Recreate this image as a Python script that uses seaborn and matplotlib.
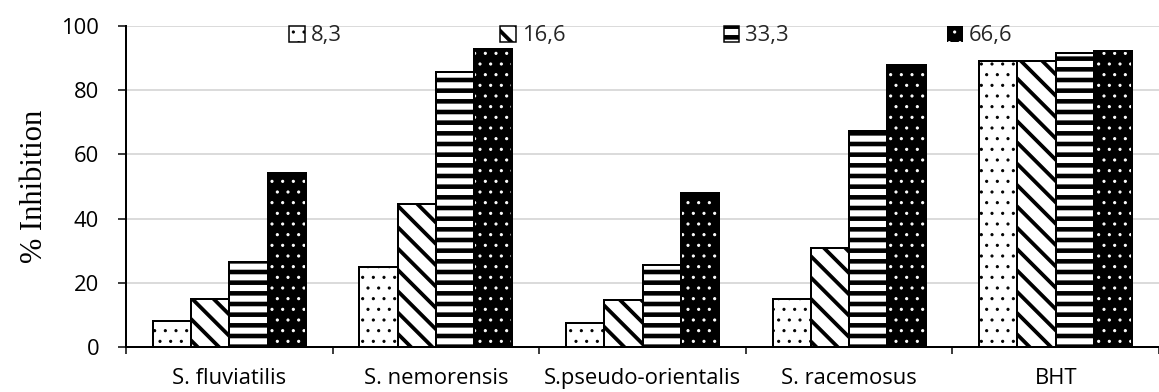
import matplotlib
matplotlib.use('Agg')
import matplotlib as mpl
import matplotlib.pyplot as plt
from matplotlib.patches import Rectangle
from matplotlib.ticker import FixedLocator
import seaborn as sns
import pandas as pd

# ---- data ----
species = ['S. fluviatilis', 'S. nemorensis', 'S.pseudo-orientalis', 'S. racemosus', 'BHT']
concentrations = ['8,3', '16,6', '33,3', '66,6']
c83 = [8.0, 25.0, 7.6, 15.0, 89.1]
c166 = [15.0, 44.5, 14.5, 30.8, 89.1]
c333 = [26.5, 85.6, 25.5, 67.2, 91.6]
c666 = [54.3, 92.7, 48.0, 87.8, 92.2]
y_ticks = [0, 20, 40, 60, 80, 100]
y_label = '% Inhibition'

sns.set_style('white')
plt.rcParams['font.family'] = ['Open Sans', 'DejaVu Sans']

DPI = 64
PT = 72 / DPI  # points per pixel

rows = []
for conc, vals in zip(concentrations, [c83, c166, c333, c666]):
    for sp, v in zip(species, vals):
        rows.append({'species': sp, 'conc': conc, 'value': v})
df = pd.DataFrame(rows)

fig = plt.figure(figsize=(1159 / DPI, 392 / DPI), dpi=DPI)
ax = fig.add_axes([126 / 1159, 45 / 392, 1033 / 1159, 321 / 392])

sns.barplot(data=df, x='species', y='value', hue='conc', order=species,
            hue_order=concentrations, palette=['white', 'white', 'white', 'black'],
            saturation=1, width=0.74, errorbar=None, edgecolor='black',
            linewidth=2 * PT, ax=ax, legend=False, zorder=3)


def set_hlw(p, lw):
    if hasattr(p, 'set_hatch_linewidth'):
        p.set_hatch_linewidth(lw)
    orig = p.draw

    def draw(renderer, _orig=orig, _lw=lw):
        with mpl.rc_context({'hatch.linewidth': _lw}):
            _orig(renderer)
    p.draw = draw


styles = [
    dict(hatch='.', hlw=1.0 * PT, ec='black'),
    dict(hatch='\\', hlw=3.8 * PT, ec='black'),
    dict(hatch='-', hlw=4.6 * PT, ec='black'),
    dict(hatch='.', hlw=1.0 * PT, ec='white'),
]

containers = list(ax.containers)
for cont, st in zip(containers, styles):
    for p in cont.patches:
        p.set_hatch(st['hatch'])
        p.set_edgecolor(st['ec'])
        set_hlw(p, st['hlw'])
        if st['ec'] == 'white':
            p.set_linewidth(0)
            ax.add_patch(Rectangle(p.get_xy(), p.get_width(), p.get_height(),
                                   fill=False, edgecolor='black',
                                   linewidth=2 * PT, zorder=4))

FS = 22 * PT
handles = [c.patches[0] for c in containers]
leg = ax.legend(handles, concentrations, loc='center', bbox_to_anchor=(0.508, 0.969),
                ncol=4, frameon=False, handlelength=0.72, handleheight=0.72,
                handletextpad=0.27, columnspacing=7.2, fontsize=FS,
                borderpad=0)
for lp, st in zip(leg.get_patches(), styles):
    lp.set_hatch(st['hatch'])
    lp.set_edgecolor('black' if st['ec'] == 'black' else 'white')
    lp.set_linewidth(1.5 * PT if st['ec'] == 'black' else 0)
    set_hlw(lp, st['hlw'])

ax.set_xlim(-0.5, 4.5)
ax.set_ylim(0, 100)
ax.set_yticks(y_ticks)
ax.yaxis.grid(True, color='#d0d0d0', linewidth=1.5 * PT)
ax.xaxis.grid(False)
ax.set_axisbelow(True)

ax.tick_params(axis='y', direction='out', length=8 * PT, width=1.5 * PT,
               pad=19 * PT, labelsize=FS, colors='black', left=True)
ax.tick_params(axis='x', which='major', length=0, pad=21 * PT,
               labelsize=22 * PT, colors='black')
ax.xaxis.set_minor_locator(FixedLocator([-0.5, 0.5, 1.5, 2.5, 3.5, 4.5]))
ax.tick_params(axis='x', which='minor', direction='out', length=7 * PT,
               width=1.5 * PT, color='black', bottom=True)

for s in ['top', 'right']:
    ax.spines[s].set_visible(False)
for s in ['left', 'bottom']:
    ax.spines[s].set_color('black')
    ax.spines[s].set_linewidth(2 * PT)
    ax.spines[s].set_zorder(5)

ax.set_xlabel('')
ax.set_ylabel(y_label, fontfamily=['Liberation Serif', 'DejaVu Serif'],
              fontsize=30.5 * PT, color='black')
ax.yaxis.set_label_coords(-0.0745, 0.5)

fig.savefig('out.png', dpi=DPI)
